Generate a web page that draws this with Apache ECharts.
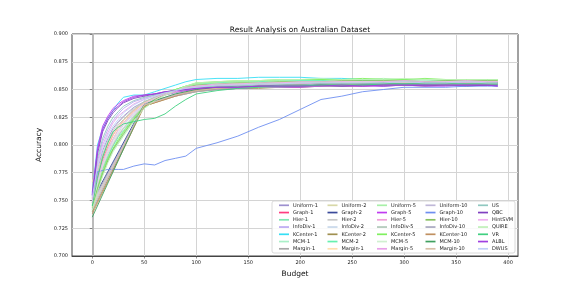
<!DOCTYPE html>
<html><head><meta charset="utf-8">
<script src="https://cdn.jsdelivr.net/npm/echarts@6/dist/echarts.min.js"></script>
<style>html,body{margin:0;padding:0;background:#fff}#c{width:576px;height:288px}</style>
</head><body><div id="c"></div>
<script>
// Budget positions
const budgetsFine = [0,5,10,15,20,25,30,40,50,60,70,80,90,100,120,140,160,180,200,220,240,260,280,300,320,340,360,380,390];
const budgetsCoarse = [0,50,60,70,80,90,100,120,140,160,180,200,220,240,260,280,300,320,340,360,380,390];
const xTicks = [0,50,100,150,200,250,300,350,400];

// Accuracy values per method
const uniform1 = [.752,.777,.795,.806,.815,.821,.826,.834,.839,.842,.845,.847,.849,.851,.852,.853,.853,.854,.854,.855,.854,.855,.855,.856,.855,.856,.856,.855,.856];
const graph1 = [.748,.771,.787,.799,.809,.816,.822,.831,.838,.842,.846,.848,.850,.852,.853,.853,.854,.855,.854,.855,.855,.856,.855,.855,.856,.856,.855,.856,.856];
const hier1 = [.745,.762,.778,.789,.799,.807,.813,.825,.835,.841,.846,.849,.852,.853,.854,.855,.856,.856,.857,.857,.856,.857,.857,.858,.857,.857,.858,.857,.857];
const infoDiv1 = [.755,.785,.803,.814,.822,.828,.833,.839,.842,.845,.847,.849,.851,.852,.853,.854,.854,.855,.855,.855,.856,.855,.856,.856,.856,.855,.856,.856,.856];
const kCenter1 = [.757,.800,.815,.824,.831,.838,.843,.845,.845,.848,.851,.854,.857,.859,.860,.860,.861,.861,.861,.860,.860,.859,.859,.858,.858,.857,.857,.858,.857];
const mcm1 = [.742,.759,.773,.785,.795,.802,.809,.822,.833,.840,.845,.849,.852,.854,.856,.856,.857,.857,.858,.858,.857,.858,.858,.858,.857,.858,.858,.857,.858];
const margin1 = [.748,.836,.840,.843,.846,.848,.850,.851,.852,.853,.853,.854,.854,.855,.855,.855,.854,.855,.855,.856,.855,.855];
const uniform2 = [.750,.769,.785,.797,.806,.814,.820,.830,.838,.843,.846,.849,.851,.853,.854,.855,.855,.856,.856,.856,.857,.856,.857,.857,.856,.857,.857,.856,.857];
const graph2 = [.750,.837,.840,.842,.845,.847,.849,.850,.851,.852,.852,.853,.853,.853,.854,.853,.854,.854,.854,.853,.854,.854];
const hier2 = [.753,.776,.792,.804,.813,.820,.825,.833,.839,.843,.846,.848,.850,.852,.853,.854,.854,.855,.855,.856,.855,.856,.856,.856,.857,.856,.856,.857,.856];
const infoDiv2 = [.749,.767,.783,.794,.804,.811,.818,.828,.837,.842,.846,.849,.851,.852,.854,.854,.855,.855,.856,.856,.856,.857,.856,.857,.857,.856,.857,.857,.857];
const kCenter2 = [.740,.835,.838,.841,.844,.846,.848,.850,.851,.851,.852,.852,.853,.853,.853,.854,.854,.853,.854,.854,.854,.855];
const mcm2 = [.746,.763,.779,.790,.800,.808,.815,.826,.836,.842,.847,.850,.853,.855,.856,.857,.857,.858,.858,.858,.859,.858,.858,.859,.858,.858,.858,.859,.858];
const margin1b = [.767,.778,.789,.800,.809,.816,.822,.831,.838,.842,.846,.848,.850,.852,.853,.854,.854,.855,.855,.855,.856,.856,.856,.856,.856,.857,.856,.856,.857];
const uniform5 = [.744,.760,.775,.787,.796,.804,.811,.823,.834,.841,.846,.850,.853,.855,.857,.857,.858,.858,.859,.859,.859,.859,.860,.859,.859,.858,.859,.859,.858];
const graph5 = [.755,.797,.817,.826,.833,.837,.840,.844,.845,.846,.847,.848,.849,.850,.851,.851,.852,.852,.852,.853,.853,.853,.853,.854,.853,.853,.854,.854,.853];
const hier5 = [.747,.764,.780,.792,.801,.809,.815,.826,.836,.841,.845,.849,.851,.853,.854,.855,.855,.856,.856,.856,.857,.857,.857,.857,.857,.857,.857,.857,.857];
const infoDiv5 = [.751,.774,.790,.802,.811,.818,.823,.832,.839,.843,.847,.849,.851,.852,.853,.854,.855,.855,.855,.856,.856,.856,.856,.857,.856,.857,.856,.857,.857];
const kCenter5 = [.743,.761,.776,.788,.797,.805,.812,.824,.835,.842,.847,.850,.853,.856,.857,.858,.858,.859,.859,.859,.859,.860,.859,.859,.860,.859,.859,.859,.859];
const mcm5 = [.746,.765,.781,.793,.802,.810,.816,.827,.836,.842,.846,.849,.852,.854,.855,.856,.856,.857,.857,.857,.858,.857,.858,.858,.858,.857,.858,.858,.858];
const margin5 = [.752,.782,.800,.811,.820,.826,.830,.837,.841,.844,.846,.848,.850,.851,.853,.853,.854,.854,.855,.855,.855,.855,.856,.855,.856,.856,.856,.855,.856];
const uniform10 = [.746,.836,.839,.842,.845,.847,.849,.851,.852,.852,.853,.853,.854,.854,.854,.855,.855,.855,.854,.855,.855,.855];
const graph10 = [.755,.776,.777,.778,.778,.778,.778,.781,.783,.782,.786,.788,.790,.797,.802,.808,.816,.823,.832,.841,.844,.848,.850,.852,.852,.852,.853,.853,.853];
const hier10 = [.744,.760,.774,.786,.796,.803,.810,.823,.834,.841,.846,.849,.852,.854,.855,.856,.856,.857,.857,.857,.858,.858,.858,.858,.857,.858,.858,.858,.858];
const infoDiv10 = [.742,.836,.839,.842,.844,.846,.848,.850,.851,.852,.852,.853,.853,.853,.854,.854,.854,.855,.854,.854,.855,.855];
const kCenter10 = [.738,.835,.838,.841,.844,.847,.849,.851,.852,.853,.853,.854,.854,.854,.855,.855,.855,.855,.856,.855,.855,.856];
const mcm10 = [.735,.837,.840,.843,.846,.848,.850,.852,.853,.853,.854,.854,.855,.855,.855,.856,.855,.856,.856,.855,.856,.856];
const margin10 = [.744,.836,.839,.842,.845,.847,.849,.851,.852,.852,.853,.853,.853,.854,.854,.854,.854,.855,.854,.855,.855,.855];
const us = [.758,.788,.806,.817,.825,.830,.835,.840,.843,.845,.847,.849,.850,.852,.853,.853,.854,.854,.854,.855,.855,.855,.855,.855,.855,.856,.855,.855,.855];
const qbc = [.754,.792,.812,.822,.829,.834,.838,.842,.844,.846,.848,.849,.850,.851,.852,.852,.853,.853,.853,.854,.853,.854,.854,.854,.854,.854,.854,.854,.854];
const hintSVM = [.749,.768,.784,.796,.805,.813,.819,.829,.837,.842,.846,.849,.852,.853,.855,.855,.856,.856,.857,.857,.857,.857,.857,.858,.857,.857,.858,.857,.857];
const quire = [.741,.758,.772,.784,.794,.801,.808,.821,.833,.840,.845,.849,.853,.856,.857,.858,.858,.859,.859,.860,.859,.859,.859,.860,.859,.859,.859,.859,.859];
const vr = [.745,.770,.789,.802,.812,.816,.819,.821,.823,.824,.828,.835,.841,.846,.849,.851,.852,.853,.853,.854,.854,.854,.855,.855,.855,.855,.855,.855,.855];
const albl = [.756,.795,.814,.824,.831,.835,.839,.843,.845,.846,.848,.849,.850,.851,.852,.852,.853,.853,.853,.853,.854,.853,.854,.854,.854,.854,.854,.854,.853];
const dwus = [.753,.780,.797,.809,.817,.823,.829,.836,.841,.844,.847,.849,.851,.852,.854,.854,.855,.855,.856,.856,.856,.856,.856,.857,.856,.856,.857,.856,.856];

// Legend columns (names as displayed)
const col1 = ['Uniform-1','Graph-1','Hier-1','InfoDiv-1','KCenter-1','MCM-1','Margin-1'];
const col2 = ['Uniform-2','Graph-2','Hier-2','InfoDiv-2','KCenter-2','MCM-2','Margin-1 '];
const col3 = ['Uniform-5','Graph-5','Hier-5','InfoDiv-5','KCenter-5','MCM-5','Margin-5'];
const col4 = ['Uniform-10','Graph-10','Hier-10','InfoDiv-10','KCenter-10','MCM-10','Margin-10'];
const col5 = ['US','QBC','HintSVM','QUIRE','VR','ALBL','DWUS'];

const seriesDefs = [
  ['Uniform-1', budgetsFine, uniform1, '#9d90cf'],
  ['Graph-1', budgetsFine, graph1, '#ff3d80'],
  ['Hier-1', budgetsFine, hier1, '#7ee8b2'],
  ['InfoDiv-1', budgetsFine, infoDiv1, '#bba9f2'],
  ['KCenter-1', budgetsFine, kCenter1, '#35dff5'],
  ['MCM-1', budgetsFine, mcm1, '#aaf0c8'],
  ['Margin-1', budgetsCoarse, margin1, '#a8a8a8'],
  ['Uniform-2', budgetsFine, uniform2, '#d8d8a8'],
  ['Graph-2', budgetsCoarse, graph2, '#3a4a9a'],
  ['Hier-2', budgetsFine, hier2, '#c8c8c8'],
  ['InfoDiv-2', budgetsFine, infoDiv2, '#c8d8ea'],
  ['KCenter-2', budgetsCoarse, kCenter2, '#a09050'],
  ['MCM-2', budgetsFine, mcm2, '#66f0b0'],
  ['Margin-1 ', budgetsFine, margin1b, '#ffdfb0'],
  ['Uniform-5', budgetsFine, uniform5, '#a8f0a8'],
  ['Graph-5', budgetsFine, graph5, '#c03cf0'],
  ['Hier-5', budgetsFine, hier5, '#f0a0d8'],
  ['InfoDiv-5', budgetsFine, infoDiv5, '#b0c8b8'],
  ['KCenter-5', budgetsFine, kCenter5, '#80f060'],
  ['MCM-5', budgetsFine, mcm5, '#d0f0d0'],
  ['Margin-5', budgetsFine, margin5, '#e8a0e8'],
  ['Uniform-10', budgetsCoarse, uniform10, '#c0b8d8'],
  ['Graph-10', budgetsFine, graph10, '#6e8ef0'],
  ['Hier-10', budgetsFine, hier10, '#88c060'],
  ['InfoDiv-10', budgetsCoarse, infoDiv10, '#a8a8c0'],
  ['KCenter-10', budgetsCoarse, kCenter10, '#c09060'],
  ['MCM-10', budgetsCoarse, mcm10, '#40a060'],
  ['Margin-10', budgetsCoarse, margin10, '#d8c0a8'],
  ['US', budgetsFine, us, '#90c8c0'],
  ['QBC', budgetsFine, qbc, '#8040c0'],
  ['HintSVM', budgetsFine, hintSVM, '#f0b0f0'],
  ['QUIRE', budgetsFine, quire, '#c0f0b8'],
  ['VR', budgetsFine, vr, '#40d080'],
  ['ALBL', budgetsFine, albl, '#a040e0'],
  ['DWUS', budgetsFine, dwus, '#c0d0f8']
];

const FONT = 'DejaVu Sans';
const legendCols = [col1, col2, col3, col4, col5];
const legendLefts = [279, 327.5, 377, 425.5, 478];
const legends = legendCols.map((col, i) => ({
  data: col, orient: 'vertical', left: legendLefts[i], top: 202.8,
  itemWidth: 10, itemHeight: 5, itemGap: 2.25, padding: 0, z: 10,
  icon: 'path://M0,0H20V3.4H0Z', symbolKeepAspect: true,
  textStyle: {fontFamily: FONT, fontSize: 5, lineHeight: 5, color: '#222', padding: [0,0,0,-1]},
  selectedMode: false
}));

const chart = echarts.init(document.getElementById('c'), null, {renderer: 'canvas'});
chart.setOption({
  animation: false,
  backgroundColor: '#fff',
  title: {text: 'Result Analysis on Australian Dataset', left: 295, top: 21, textAlign: 'center',
    textStyle: {fontFamily: FONT, fontSize: 7.5, fontWeight: 'normal', color: '#111'}},
  grid: {left: 72, right: 58, top: 34, bottom: 32, show: true, borderColor: '#444', borderWidth: 1},
  graphic: [{type: 'rect', shape: {x: 272, y: 201, width: 243, height: 52, r: 2}, z: 5,
    style: {fill: 'rgba(255,255,255,0.85)', stroke: '#d0d0d0', lineWidth: 0.8}}],
  legend: legends,
  xAxis: {type: 'value', min: -19.5, max: 409.5,
    name: 'Budget', nameLocation: 'middle', nameGap: 12,
    nameTextStyle: {fontFamily: FONT, fontSize: 7.5, color: '#111'},
    axisLine: {show: true, lineStyle: {color: '#444', width: 1}},
    axisTick: {show: true, length: 2.5, customValues: xTicks, lineStyle: {color: '#444', width: 0.6}},
    axisLabel: {customValues: xTicks, fontFamily: FONT, fontSize: 5, color: '#222', margin: 4},
    splitLine: {show: true, lineStyle: {color: '#d4d4d4', width: 1}}},
  yAxis: {type: 'value', min: 0.7, max: 0.9, interval: 0.025,
    name: 'Accuracy', nameLocation: 'middle', nameGap: 24, nameRotate: 90,
    nameTextStyle: {fontFamily: FONT, fontSize: 7.5, color: '#111'},
    axisLine: {show: true, lineStyle: {color: '#bbb', width: 2}},
    axisTick: {show: true, length: 2.5, lineStyle: {color: '#444', width: 0.6}},
    axisLabel: {fontFamily: FONT, fontSize: 5, color: '#222', margin: 4, formatter: v => v.toFixed(3)},
    splitLine: {show: true, lineStyle: {color: '#d4d4d4', width: 1}}},
  series: seriesDefs.map(([name, xs, ys, color]) => ({
    name, type: 'line', symbol: 'none', showSymbol: false,
    data: xs.map((x, i) => [x, ys[i]]),
    lineStyle: {color, width: 0.9}, itemStyle: {color},
    emphasis: {disabled: true}
  }))
});
</script></body></html>
